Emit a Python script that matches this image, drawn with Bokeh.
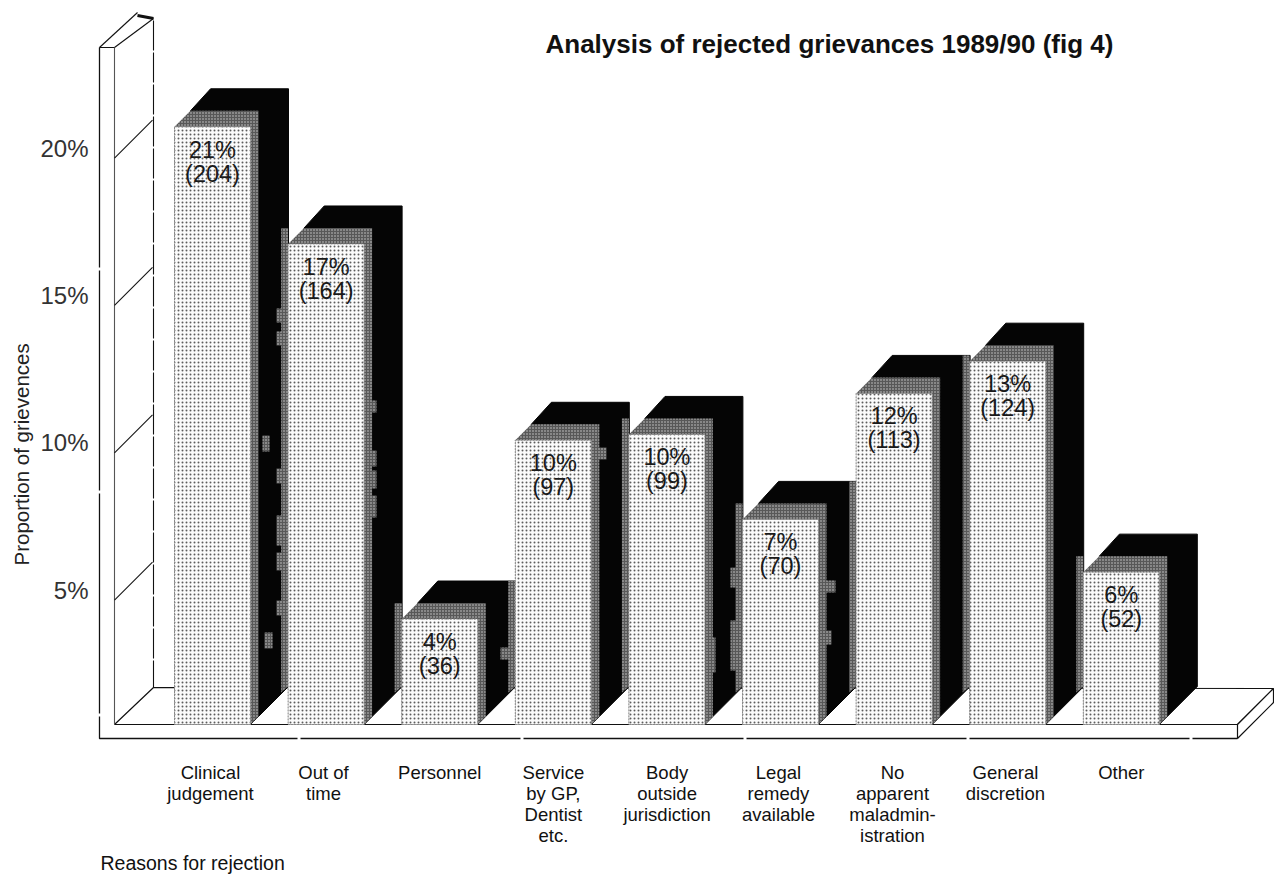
from bokeh.embed import file_html
from bokeh.resources import INLINE
from bokeh.plotting import figure
from bokeh.models import Range1d, LinearAxis, FixedTicker, Label, ColumnDataSource, Title
from bokeh.core.properties import value

# Data: reasons for rejection, percentage labels and number of grievances
categories = ["Clinical\njudgement", "Out of\ntime", "Personnel", "Service\nby GP,\nDentist\netc.",
              "Body\noutside\njurisdiction", "Legal\nremedy\navailable", "No\napparent\nmaladmin-\nistration",
              "General\ndiscretion", "Other"]
percent_labels = [21, 17, 4, 10, 10, 7, 12, 13, 6]
counts = [204, 164, 36, 97, 99, 70, 113, 124, 52]
percent_ticks = [5, 10, 15, 20]
label_nudge = [-0.018, -0.023, 0.0, 0.001, 0.002, -0.018, -0.014, -0.02, 0.0]

# Print flecks on the dark bar sides: left, top, width, height in pixels
flecks = [(276, 308, 9, 14), (276, 331, 9, 14), (262, 435, 7, 16), (276, 468, 9, 15), (276, 515, 9, 30),
          (276, 552, 9, 18), (276, 600, 9, 15), (264, 632, 8, 16), (367, 400, 9, 12), (367, 450, 9, 16),
          (367, 470, 9, 18), (367, 495, 9, 22), (500, 647, 10, 12), (590, 447, 16, 12), (703, 637, 12, 35),
          (730, 567, 8, 20), (730, 620, 8, 50), (817, 580, 18, 12), (817, 630, 14, 14)]

# Scales: one bar slot is 113.6 px wide, one grievance is 2.93 px tall
SLOT = 113.6
UNIT = 2.93
LEFT, RIGHT, TOP, BOTTOM = 90, 1274, 0, 745
ORIGIN_X, FLOOR_Y = 212, 724
PCT_UNIT, PCT_ZERO = 29.47, 737


def X(px):
    return (px - ORIGIN_X) / SLOT


def Y(px):
    return (FLOOR_Y - px) / UNIT


def P(px):
    return (PCT_ZERO - px) / PCT_UNIT


FONT = "Liberation Sans"
p = figure(width=1274, height=877, frame_width=RIGHT - LEFT, frame_height=BOTTOM - TOP,
           min_border_left=LEFT, min_border_right=0, min_border_top=TOP, min_border_bottom=877 - BOTTOM,
           x_range=Range1d(X(LEFT), X(RIGHT)), y_range=Range1d(Y(BOTTOM), Y(TOP)),
           output_backend="svg", toolbar_location=None, y_axis_location=None)
p.outline_line_color = None
p.grid.visible = False
p.background_fill_color = "white"
p.extra_y_ranges = {"percent": Range1d(P(BOTTOM), P(TOP))}

# Percentage axis
axis = LinearAxis(y_range_name="percent", ticker=FixedTicker(ticks=percent_ticks),
                  major_label_overrides={t: f"{t}%" for t in percent_ticks})
axis.axis_line_color = None
axis.major_tick_line_color = None
axis.minor_tick_line_color = None
axis.major_label_standoff = -4
axis.major_label_text_font = FONT
axis.major_label_text_font_size = "24px"
axis.major_label_text_color = "#333333"
p.add_layout(axis, "left")

# Category axis
positions = [i + n for i, n in enumerate(label_nudge)]
xaxis = p.xaxis[0]
xaxis.ticker = FixedTicker(ticks=positions)
xaxis.major_label_overrides = dict(zip(positions, categories))
xaxis.axis_line_color = None
xaxis.major_tick_line_color = None
xaxis.minor_tick_line_color = None
xaxis.major_label_standoff = 10
xaxis.major_label_text_font = FONT
xaxis.major_label_text_font_size = "18.5px"
xaxis.major_label_text_line_height = 1.01
xaxis.major_label_text_color = "#111111"

# Base plate and back wall of the 3-D box
ink = "#111111"
p.patch([X(v) for v in (114, 153, 1273, 1237)], [Y(v) for v in (724, 687, 688, 724)],
        fill_color="white", line_color=ink, line_width=1.2)
p.patch([X(v) for v in (1237, 1273, 1273, 1237)], [Y(v) for v in (724, 688, 702, 738)],
        fill_color="white", line_color=ink, line_width=1.2)
p.line([X(99), X(99), X(1237)], [Y(47), Y(738), Y(738)], line_color=ink, line_width=1.3, line_dash="220 3")
p.line([X(114), X(114)], [Y(47), Y(724)], line_color="#555555", line_width=1.1)
p.line([X(153), X(153)], [Y(20), Y(687)], line_color=ink, line_width=1.1, line_dash="30 2")
p.line([X(99), X(114)], [Y(47), Y(47)], line_color=ink, line_width=1.1)
p.line([X(99), X(137)], [Y(47), Y(12)], line_color=ink, line_width=1.1)
p.line([X(114), X(153)], [Y(47), Y(18)], line_color=ink, line_width=1.1)
p.line([X(137), X(153)], [Y(15), Y(18)], line_color=ink, line_width=3)
p.line([X(153), X(174)], [Y(687), Y(687)], line_color=ink, line_width=1, line_dash="4 2")
for t in percent_ticks:
    p.line([X(114), X(152)], [t - 10 / PCT_UNIT, t + 28 / PCT_UNIT], y_range_name="percent",
           line_color=ink, line_width=1.1)

# Bars built from the grievance counts
half = 38 / SLOT
depth_x, depth_y = 38 / SLOT, 38 / UNIT
band_x, band_y = 16 / SLOT, 16 / UNIT
right_strip = 8 / SLOT
left_strip = 7 / SLOT
black_x, black_y, grey_x, grey_y, front_x, front_y, strip_x, strip_y = [], [], [], [], [], [], [], []
for i, c in enumerate(counts):
    l, r = i - half, i + half
    black_x.append([l + band_x, l + depth_x * 0.95, r + depth_x, r + depth_x, r])
    black_y.append([c + band_y, c + depth_y, c + depth_y, depth_y, 0])
    grey_x.append([l, l + band_x, r + right_strip, r + right_strip, r, l])
    grey_y.append([c, c + band_y, c + band_y, right_strip * SLOT / UNIT, 0, 0])
    front_x.append([l, r, r, l])
    front_y.append([0, 0, c, c])
    if i:
        # Strip of the bar's left face, visible only where the previous bar's side lies behind it
        h = min(c + band_y, counts[i - 1] + depth_y)
        strip_x.append([l - left_strip, l, l, l - left_strip])
        strip_y.append([h, h, depth_y, depth_y - 6 / UNIT])

p.patches(black_x, black_y, fill_color="#050505", line_color="#050505")
grey_style = dict(fill_color="#585858", line_color=None, hatch_pattern="dot", hatch_color="#d0d0d0",
                  hatch_scale=3, hatch_weight=1)
p.patches(strip_x, strip_y, **grey_style)
p.patches(grey_x, grey_y, **grey_style)
p.quad(left=[X(f[0]) for f in flecks], right=[X(f[0] + f[2]) for f in flecks],
       top=[Y(f[1]) for f in flecks], bottom=[Y(f[1] + f[3]) for f in flecks], **grey_style)
p.patches(front_x, front_y, fill_color="#fbfbfb", line_color="#888888", line_width=1, line_dash="2 1",
          hatch_pattern="dot", hatch_color="#5c5c5c", hatch_scale=4, hatch_weight=1)

# Value labels inside each bar
source = ColumnDataSource(dict(x=list(range(len(counts))), y=counts,
                               pct=[f"{v}%" for v in percent_labels],
                               n=[f"({v})" for v in counts]))
for col, off in (("pct", 23), ("n", 47)):
    p.text("x", "y", text=col, source=source, y_offset=off, text_align="center", text_baseline="middle",
           text_font=value(FONT), text_font_size="23.5px", text_color="#1a1a1a")

# Title and axis captions
p.add_layout(Label(x=455, y=702, x_units="screen", y_units="screen",
                   text="Analysis of rejected grievances 1989/90 (fig 4)", text_font=FONT,
                   text_font_size="26px", text_font_style="bold", text_color="#111111",
                   text_align="left", text_baseline="middle"))
p.add_layout(Title(text="Proportion of grievences", align="left", offset=180, standoff=10, text_font=FONT,
                   text_font_size="20.5px", text_font_style="normal", text_color="#222222"), "left")
p.add_layout(Title(text="Reasons for rejection", align="left", offset=10, standoff=0, text_font=FONT,
                   text_font_size="19.5px", text_font_style="normal", text_color="#111111"), "below")

open("out.html", "w").write(file_html(p, INLINE))
